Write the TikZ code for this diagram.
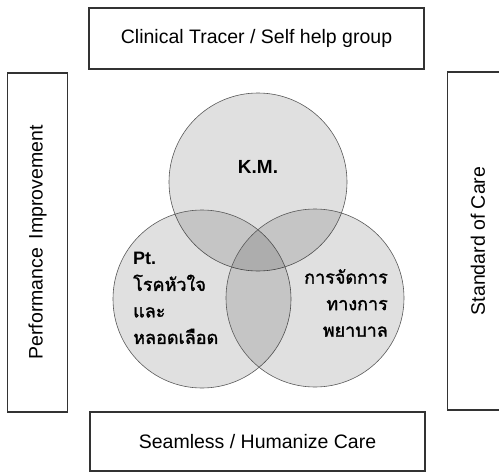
\documentclass[tikz,border=0pt]{standalone}
\usepackage{fontspec}
\setmainfont{Liberation Sans}
\newfontfamily\thaifont[Script=Thai,AutoFakeBold=1.6]{Loma}

\begin{document}
\begin{tikzpicture}[x=1pt,y=-1pt]
\tikzset{
  frame/.style={draw=black!80, line width=1.1pt, inner sep=0pt,
    font=\fontsize{19.5}{22}\selectfont},
  ring/.style={circle, draw=black!65, line width=0.6pt, fill=black,
    fill opacity=0.12, draw opacity=1, minimum size=178pt, inner sep=0pt},
  thaitext/.style={inner sep=0pt, font=\thaifont\bfseries\fontsize{18}{26.5}\selectfont}
}
\useasboundingbox (0,0) rectangle (499,472);
% outer boxes
\node [frame, minimum width=335pt, minimum height=61pt] (tracer) at (256.5,38.5) {Clinical Tracer / Self help group};
\node [frame, minimum width=335pt, minimum height=59pt] (seamless) at (257.5,441.5) {Seamless / Humanize Care};
\node [frame, rotate=90, minimum width=339pt, minimum height=60pt] (perf) at (37.5,242.5) {Performance\, Improvement};
\node [frame, rotate=90, minimum width=338pt, minimum height=61pt] (standard) at (478,241) {Standard of Care};
% circles
\node [ring] (km) at (258,182) {};
\node [ring] (pt) at (202,299) {};
\node [ring] (nurse) at (315,298) {};
% texts
\node [inner sep=0pt, font=\bfseries\fontsize{19}{22}\selectfont] (kmtxt) at (258,167) {K.M.};
\node [thaitext, align=left, anchor=west] (pttxt) at (133,298) {{\normalfont\bfseries Pt.}\\โรคหัวใจ\\และ\\หลอดเลือด};
\node [thaitext, align=right, anchor=east] (nursetxt) at (388,303) {การจัดการ\\ทางการ\\พยาบาล};
\end{tikzpicture}
\end{document}
